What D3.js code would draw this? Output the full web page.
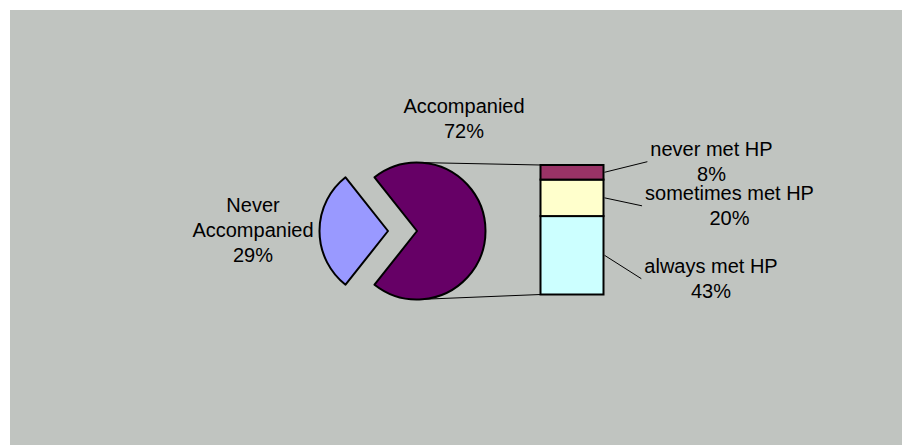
<!DOCTYPE html>
<html>
<head>
<meta charset="utf-8">
<script src="https://cdn.jsdelivr.net/npm/d3@7"></script>
<style>
  body { margin: 0; background: #fff; }
  text { font-family: "Liberation Sans", Arial, sans-serif; font-size: 20px; fill: #000; }
</style>
</head>
<body>
<div id="chart"></div>
<script>
"use strict";

// pie: "Accompanied" is split out into the bar
const pieCategories = [["Never", "Accompanied"], ["Accompanied"]];
const pieValues = [29, 72];
const pieColors = ["#9999FF", "#660066"];

// bar, bottom to top
const barCategories = ["always met HP", "sometimes met HP", "never met HP"];
const barValues = [43, 20, 8];
const barColors = ["#CCFFFF", "#FFFFCC", "#993366"];

const width = 902;
const height = 445;

const cx = 417;
const cy = 231;
const radius = 68.5;
const explode = 29;

const barLeft = 540.5;
const barWidth = 63;

const svg = d3.select("#chart").append("svg")
  .attr("width", width)
  .attr("height", height);

svg.append("rect")
  .attr("x", 10)
  .attr("y", 10)
  .attr("width", width - 10)
  .attr("height", height - 10)
  .attr("fill", "#c0c4c0");

// pie, first slice centred on 9 o'clock
const total = d3.sum(pieValues);
const firstAngle = pieValues[0] / total * 2 * Math.PI;
const startAngle = 1.5 * Math.PI - firstAngle / 2;

const pie = d3.pie()
  .sort(null)
  .startAngle(startAngle)
  .endAngle(startAngle + 2 * Math.PI);

const arc = d3.arc()
  .innerRadius(0)
  .outerRadius(radius);

const slices = pie(pieValues);

// connector lines from pie top/bottom to bar top/bottom
const y = d3.scaleLinear()
  .domain([0, d3.sum(barValues)])
  .range([294.5, 165]);

svg.append("line")
  .attr("x1", cx).attr("y1", cy - radius)
  .attr("x2", barLeft).attr("y2", y(d3.sum(barValues)))
  .attr("stroke", "#000").attr("stroke-width", 1);

svg.append("line")
  .attr("x1", cx).attr("y1", cy + radius)
  .attr("x2", barLeft).attr("y2", y(0))
  .attr("stroke", "#000").attr("stroke-width", 1);

svg.append("g")
  .selectAll("path")
  .data(slices)
  .join("path")
  .attr("d", arc)
  .attr("transform", function(d, i) {
    var dx = 0, dy = 0;
    if (i === 0) {
      const mid = (d.startAngle + d.endAngle) / 2;
      dx = Math.sin(mid) * explode;
      dy = -Math.cos(mid) * explode;
    }
    return "translate(" + (cx + dx) + "," + (cy + dy) + ")";
  })
  .attr("fill", (d, i) => pieColors[i])
  .attr("stroke", "#000")
  .attr("stroke-width", 2)
  .attr("stroke-linejoin", "round");

// pie labels: centre x, first baseline
const pieLabelPos = [[253, 211.7], [464, 112.7]];
const lineGap = 25.3;

pieCategories.forEach(function(lines, i) {
  const t = svg.append("text")
    .attr("text-anchor", "middle");
  lines.concat([pieValues[i] + "%"]).forEach(function(s, j) {
    t.append("tspan")
      .attr("x", pieLabelPos[i][0])
      .attr("y", pieLabelPos[i][1] + j * lineGap)
      .text(s);
  });
});

// stacked bar
var acc = 0;
const stacks = barValues.map(function(v) {
  const s = { y0: acc, y1: acc + v };
  acc += v;
  return s;
});

svg.append("g")
  .selectAll("rect")
  .data(stacks)
  .join("rect")
  .attr("x", barLeft)
  .attr("y", d => y(d.y1))
  .attr("width", barWidth)
  .attr("height", d => y(d.y0) - y(d.y1))
  .attr("fill", (d, i) => barColors[i])
  .attr("stroke", "#000")
  .attr("stroke-width", 2);

// bar labels: centre x, first baseline relative to segment middle
const barLabelPos = [[711, 17.4], [729.5, 2], [711.5, -16.6]];

barCategories.forEach(function(name, i) {
  const mid = (y(stacks[i].y0) + y(stacks[i].y1)) / 2;
  const lx = barLabelPos[i][0];
  const ly = mid + barLabelPos[i][1];

  const t = svg.append("text")
    .attr("text-anchor", "middle");
  t.append("tspan").attr("x", lx).attr("y", ly).text(name);
  t.append("tspan").attr("x", lx).attr("y", ly + lineGap).text(barValues[i] + "%");

  const w = t.select("tspan").node().getComputedTextLength();

  svg.append("line")
    .attr("x1", barLeft + barWidth + 1)
    .attr("y1", mid)
    .attr("x2", lx - w / 2 - 3)
    .attr("y2", ly + 6)
    .attr("stroke", "#000")
    .attr("stroke-width", 1);
});
</script>
</body>
</html>
